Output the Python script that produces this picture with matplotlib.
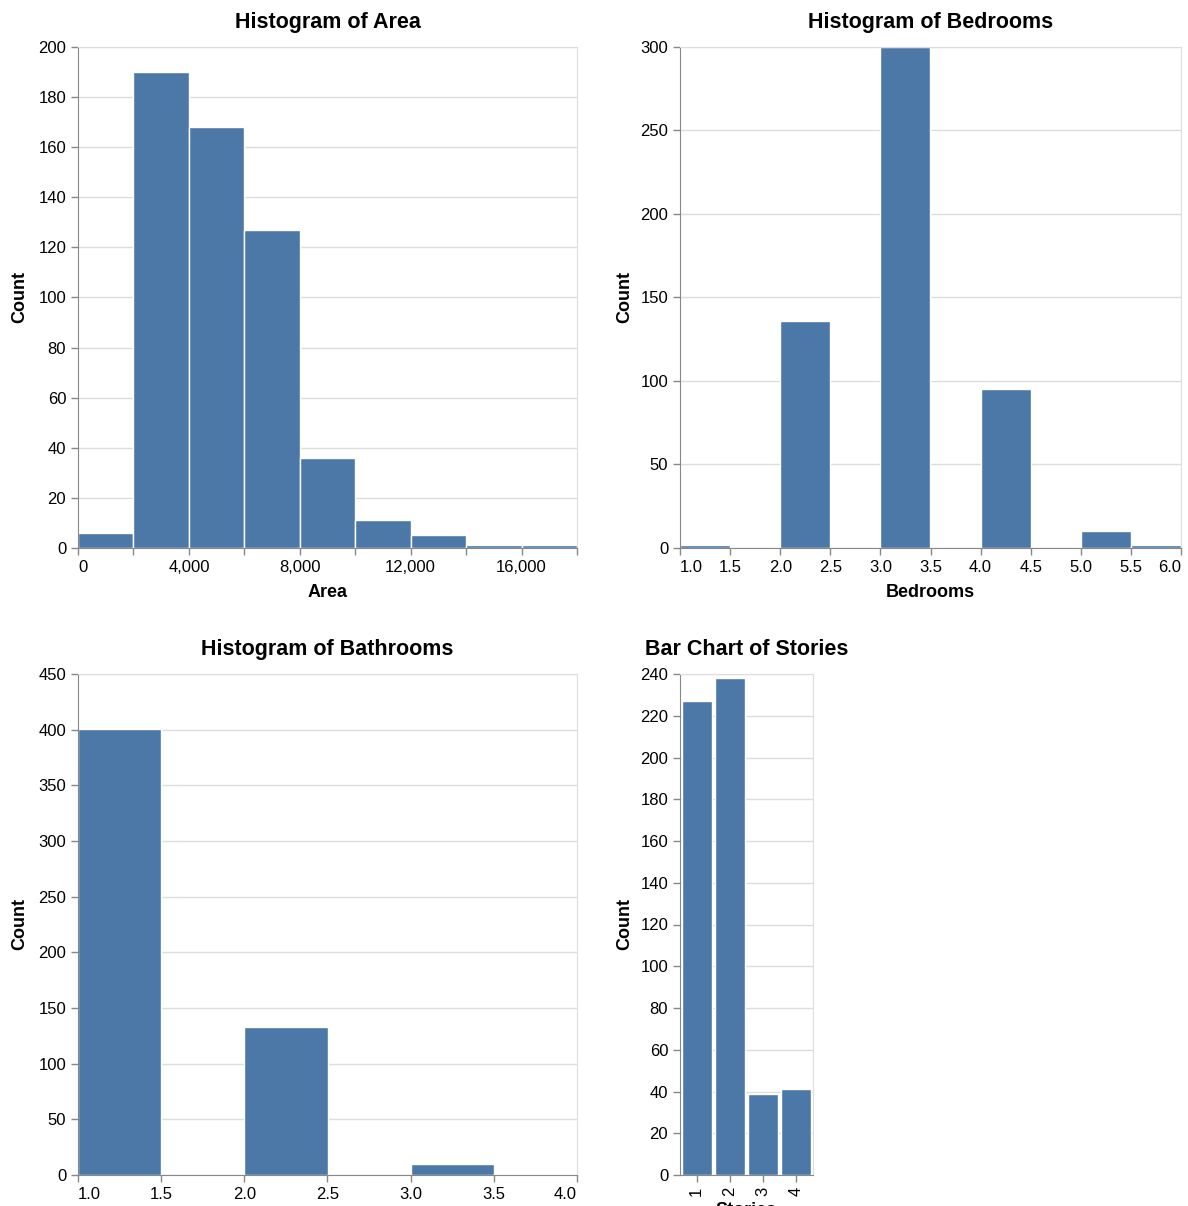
import numpy as np
import matplotlib
matplotlib.use("Agg")
import matplotlib.pyplot as plt
from matplotlib.ticker import FuncFormatter

plt.rcParams['font.family'] = ['Liberation Sans', 'DejaVu Sans']

# data
area_bin_start = [0, 2000, 4000, 6000, 8000, 10000, 12000, 14000, 16000]
area_counts = [6, 190, 168, 127, 36, 11, 5, 1, 1]
area_bin_width = 2000

bed_bin_start = [1.0, 2.0, 3.0, 4.0, 5.0, 5.5]
bed_counts = [2, 136, 300, 95, 10, 2]
bed_bin_width = 0.5

bath_bin_start = [1.0, 2.0, 3.0, 3.5]
bath_counts = [401, 133, 10, 1]
bath_bin_width = 0.5

stories = ['1', '2', '3', '4']
stories_counts = [227, 238, 39, 41]

BAR = '#4c78a8'
GRID = '#dddddd'
AXIS = '#888888'

W, H = 1188, 1206
fig = plt.figure(figsize=(W / 100, H / 100), dpi=100)


def make_ax(left, top, right, bottom):
    return fig.add_axes([left / W, 1 - bottom / H, (right - left) / W, (bottom - top) / H])


def style(ax, title, xlabel, ylim, ystep, label_x_px, width_px, height_px):
    ax.set_ylim(0, ylim)
    ax.set_yticks(np.arange(0, ylim + 1, ystep))
    ax.grid(axis='y', color=GRID, linewidth=1)
    ax.set_axisbelow(True)
    for s in ['top', 'right']:
        ax.spines[s].set_color(GRID)
    for s in ['left', 'bottom']:
        ax.spines[s].set_color(AXIS)
    ax.tick_params(length=5, color=AXIS, labelsize=12, width=1)
    ax.set_title(title, fontsize=15.5, fontweight='bold', pad=14)
    ax.set_ylabel('Count', fontsize=13, fontweight='bold', va='center')
    ax.yaxis.set_label_coords(label_x_px / width_px, 0.5)
    ax.set_xlabel(xlabel, fontsize=13, fontweight='bold')
    ax.xaxis.set_label_coords(0.5, -36 / height_px)


def flush(ax):
    labels = ax.get_xticklabels()
    labels[0].set_ha('left')
    labels[-1].set_ha('right')


# Area
ax1 = make_ax(78, 47, 577, 548)
ax1.bar(area_bin_start, area_counts, width=area_bin_width, align='edge',
        color=BAR, edgecolor='white', linewidth=1)
ax1.set_xlim(0, 18000)
ax1.set_xticks(np.arange(0, 18001, 2000))
ax1.set_xticklabels([f"{v:,}" if v % 4000 == 0 and v < 18000 else ""
                     for v in range(0, 18001, 2000)])
style(ax1, 'Histogram of Area', 'Area', 200, 20, -58, 499, 501)
flush(ax1)

# Bedrooms
ax2 = make_ax(680, 47, 1181, 548)
ax2.bar(bed_bin_start, bed_counts, width=bed_bin_width, align='edge',
        color=BAR, edgecolor='white', linewidth=1)
ax2.set_xlim(1.0, 6.0)
ax2.set_xticks(np.arange(1.0, 6.01, 0.5))
ax2.set_xticklabels([f"{v:.1f}" for v in np.arange(1.0, 6.01, 0.5)])
style(ax2, 'Histogram of Bedrooms', 'Bedrooms', 300, 50, -55, 501, 501)
flush(ax2)

# Bathrooms
ax3 = make_ax(78, 674, 577, 1175)
ax3.bar(bath_bin_start, bath_counts, width=bath_bin_width, align='edge',
        color=BAR, edgecolor='white', linewidth=1)
ax3.set_xlim(1.0, 4.0)
ax3.set_xticks(np.arange(1.0, 4.01, 0.5))
ax3.set_xticklabels([f"{v:.1f}" for v in np.arange(1.0, 4.01, 0.5)])
style(ax3, 'Histogram of Bathrooms', 'Bathrooms', 450, 50, -58, 499, 501)
flush(ax3)

# Stories
ax4 = make_ax(680, 674, 813, 1175)
xpos = np.arange(len(stories))
ax4.bar(xpos, stories_counts, width=0.9, color=BAR, edgecolor='white', linewidth=1)
ax4.set_xlim(-0.5, len(stories) - 0.5)
ax4.set_xticks(xpos)
ax4.set_xticklabels(stories, rotation=90)
style(ax4, 'Bar Chart of Stories', 'Stories', 240, 20, -55, 133, 501)
ax4.xaxis.set_label_coords(0.5, -27 / 501)

fig.savefig('out.png', dpi=100)
